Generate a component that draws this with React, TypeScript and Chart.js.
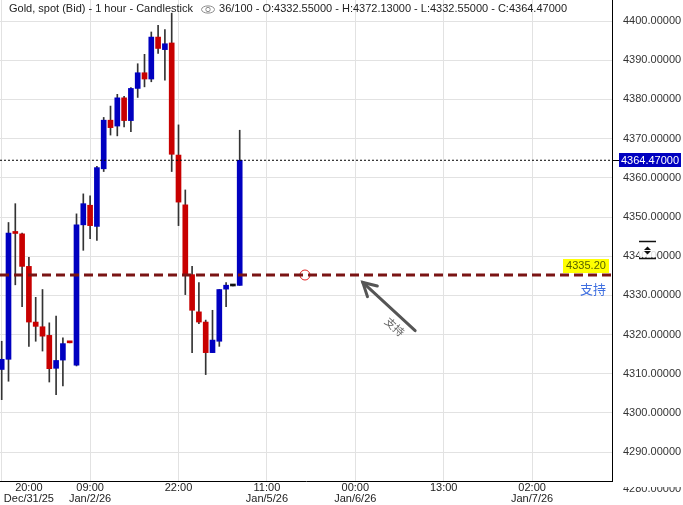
import React, { useEffect, useRef } from "react";
import { Chart, registerables } from "chart.js";

Chart.register(...registerables);

const FONT = '"Liberation Sans", Arial, sans-serif';
const CJK_FONT = '"Noto Sans CJK SC", "Noto Sans", sans-serif';

// ---- data (1-hour candles, Gold spot Bid) ----
const OPEN = [4311.1, 4313.7, 4346.1, 4345.7, 4337.4, 4323.2, 4322.0, 4319.8, 4311.4, 4313.5, 4318.1, 4312.2, 4348.0, 4353.0, 4347.6, 4362.3, 4374.7, 4373.2, 4380.4, 4374.6, 4382.8, 4386.8, 4385.2, 4395.9, 4392.7, 4394.4, 4365.8, 4353.1, 4335.3, 4325.8, 4323.2, 4315.4, 4318.3, 4331.6, 4332.4, 4332.55];
const HIGH = [4318.3, 4348.6, 4353.4, 4345.9, 4339.7, 4329.5, 4331.5, 4323.0, 4324.7, 4319.2, 4318.2, 4350.8, 4355.9, 4355.4, 4362.9, 4375.4, 4378.3, 4381.3, 4380.8, 4383.0, 4389.1, 4391.5, 4397.2, 4398.9, 4397.8, 4402.0, 4373.5, 4356.9, 4337.4, 4333.3, 4323.7, 4326.2, 4331.5, 4333.3, 4332.4, 4372.13];
const LOW = [4303.4, 4308.1, 4332.7, 4327.1, 4317.0, 4318.3, 4315.8, 4307.9, 4304.7, 4306.9, 4317.9, 4312.0, 4341.5, 4344.5, 4344.0, 4361.6, 4370.9, 4370.7, 4373.0, 4371.8, 4380.5, 4383.2, 4384.5, 4391.7, 4384.9, 4361.6, 4347.8, 4330.2, 4315.4, 4322.8, 4309.8, 4315.4, 4317.0, 4327.1, 4332.4, 4332.55];
const CLOSE = [4313.7, 4345.9, 4345.8, 4337.4, 4323.2, 4322.1, 4319.6, 4311.3, 4313.4, 4317.7, 4317.9, 4348.0, 4353.4, 4347.8, 4362.6, 4374.7, 4372.8, 4380.4, 4374.6, 4382.8, 4386.8, 4385.2, 4395.9, 4393.0, 4394.2, 4366.0, 4353.8, 4335.3, 4326.2, 4323.2, 4315.4, 4318.6, 4331.5, 4332.6, 4332.4, 4364.47];

const X_TICK_INDEX = [0, 4, 13, 26, 39, 52, 65, 78];
const X_TICK_LABELS = [[""], ["20:00", "Dec/31/25"], ["09:00", "Jan/2/26"], ["22:00"], ["11:00", "Jan/5/26"], ["00:00", "Jan/6/26"], ["13:00"], ["02:00", "Jan/7/26"]];
const X_TICK_GRID = [true, false, true, true, true, true, true, true];
const X_MIN = -0.25;
const X_MAX = 89.75;

const Y_MIN = 4282.65;
const Y_MAX = 4405.36;
const Y_STEP = 10;
const Y_EXTRA_TICK = 4280;

const TITLE = "Gold, spot (Bid) - 1 hour - Candlestick";
const BAR_COUNT_TEXT = "36/100";

const SUPPORT = 4335.2;
const SUPPORT_LABEL = "4335.20";
const SUPPORT_TEXT = "支持";
const MARKER = { x: 44.6, y: 4335.2 };
const ARROW_FROM = { x: 60.8, y: 4321.0 };
const ARROW_TO = { x: 53.1, y: 4333.3 };
const ARROW_TEXT_AT = { x: 57.8, y: 4322.0 };

const UP = "#0000c0";
const DOWN = "#c80000";
const FLAT = "#111111";
const WICK = "#333333";

const last = OPEN.length - 1;
const CURRENT = CLOSE[last];
const fmt5 = (v: number) => v.toFixed(5);

const overlayPlugin = {
  id: "overlay",
  afterDraw(chart: any) {
    const { ctx, chartArea } = chart;
    const xs = chart.scales.x;
    const ys = chart.scales.y;
    const right = chartArea.right;
    ctx.save();

    // title line
    ctx.font = `11px ${FONT}`;
    ctx.fillStyle = "#222";
    ctx.textBaseline = "middle";
    ctx.textAlign = "left";
    ctx.fillText(TITLE, 9, 9);
    const tw = ctx.measureText(TITLE).width;
    const ex = 9 + tw + 15;
    ctx.strokeStyle = "#8a8a8a";
    ctx.lineWidth = 1;
    ctx.beginPath();
    ctx.ellipse(ex, 9.5, 6.5, 3.6, 0, 0, Math.PI * 2);
    ctx.stroke();
    ctx.beginPath();
    ctx.arc(ex, 9.5, 2.2, 0, Math.PI * 2);
    ctx.stroke();
    const info = `${BAR_COUNT_TEXT} - O:${fmt5(OPEN[last])} - H:${fmt5(HIGH[last])} - L:${fmt5(LOW[last])} - C:${fmt5(CLOSE[last])}`;
    ctx.fillStyle = "#222";
    ctx.fillText(info, ex + 11, 9);

    // current price tag
    const yP = Math.round(ys.getPixelForValue(CURRENT)) + 0.5;
    ctx.strokeStyle = "#000";
    ctx.beginPath();
    ctx.moveTo(right, yP);
    ctx.lineTo(right + 7, yP);
    ctx.stroke();
    ctx.fillStyle = "#0000c0";
    ctx.fillRect(right + 7, yP - 7.5, 62, 14);
    ctx.fillStyle = "#fff";
    ctx.textAlign = "center";
    ctx.fillText(fmt5(CURRENT), right + 38, yP);

    // support label (yellow) and text
    const yS = ys.getPixelForValue(SUPPORT);
    ctx.fillStyle = "#ffff00";
    ctx.fillRect(right - 49, yS - 16, 46, 14);
    ctx.fillStyle = "#556000";
    ctx.textAlign = "center";
    ctx.fillText(SUPPORT_LABEL, right - 26, yS - 9);
    ctx.font = `13px ${CJK_FONT}`;
    ctx.fillStyle = "#3f6fe0";
    ctx.textAlign = "right";
    ctx.fillText(SUPPORT_TEXT, right - 6, yS + 14);

    // arrow annotation
    const x1 = xs.getPixelForValue(ARROW_FROM.x);
    const y1 = ys.getPixelForValue(ARROW_FROM.y);
    const x2 = xs.getPixelForValue(ARROW_TO.x);
    const y2 = ys.getPixelForValue(ARROW_TO.y);
    const ang = Math.atan2(y2 - y1, x2 - x1);
    ctx.strokeStyle = "#555";
    ctx.lineWidth = 3;
    ctx.lineCap = "round";
    ctx.beginPath();
    ctx.moveTo(x1, y1);
    ctx.lineTo(x2, y2);
    ctx.stroke();
    const hl = 15;
    const spread = Math.PI / 6.2;
    ctx.beginPath();
    ctx.moveTo(x2 - hl * Math.cos(ang - spread), y2 - hl * Math.sin(ang - spread));
    ctx.lineTo(x2, y2);
    ctx.lineTo(x2 - hl * Math.cos(ang + spread), y2 - hl * Math.sin(ang + spread));
    ctx.stroke();
    const tx = xs.getPixelForValue(ARROW_TEXT_AT.x);
    const ty = ys.getPixelForValue(ARROW_TEXT_AT.y);
    ctx.translate(tx, ty);
    ctx.rotate(ang + Math.PI);
    ctx.font = `11px ${CJK_FONT}`;
    ctx.fillStyle = "#666";
    ctx.textAlign = "center";
    ctx.textBaseline = "middle";
    ctx.fillText(SUPPORT_TEXT, 0, 0);
    ctx.setTransform(1, 0, 0, 1, 0, 0);

    // axis scale widget
    ctx.fillStyle = "rgba(255,255,255,0.85)";
    ctx.fillRect(right + 27, 243, 17, 14);
    ctx.strokeStyle = "#111";
    ctx.lineWidth = 1.5;
    ctx.lineCap = "butt";
    ctx.beginPath();
    ctx.moveTo(right + 27, 241.5);
    ctx.lineTo(right + 44, 241.5);
    ctx.moveTo(right + 27, 258.5);
    ctx.lineTo(right + 44, 258.5);
    ctx.stroke();
    ctx.fillStyle = "#111";
    ctx.beginPath();
    ctx.moveTo(right + 35.5, 246.5);
    ctx.lineTo(right + 39, 250);
    ctx.lineTo(right + 32, 250);
    ctx.closePath();
    ctx.fill();
    ctx.beginPath();
    ctx.moveTo(right + 32, 251);
    ctx.lineTo(right + 39, 251);
    ctx.lineTo(right + 35.5, 254.5);
    ctx.closePath();
    ctx.fill();

    // partially hidden bottom tick label
    ctx.save();
    ctx.beginPath();
    ctx.rect(right, 487, 80, 30);
    ctx.clip();
    ctx.font = `11px ${FONT}`;
    ctx.fillStyle = "#333";
    ctx.textAlign = "left";
    ctx.textBaseline = "middle";
    ctx.fillText(fmt5(Y_EXTRA_TICK), right + 11, ys.getPixelForValue(Y_EXTRA_TICK) - 2);
    ctx.restore();

    ctx.restore();
  },
};

export default function App() {
  const ref = useRef<HTMLCanvasElement>(null);
  useEffect(() => {
    document.body.style.margin = "0";
    const idx = OPEN.map((_, i) => i);
    const bodyData = idx.map((i) => ({ x: i, y: [OPEN[i], CLOSE[i]] }));
    const wickData = idx.map((i) => ({ x: i, y: [LOW[i], HIGH[i]] }));
    const bodyColors = idx.map((i) => (CLOSE[i] > OPEN[i] ? UP : CLOSE[i] < OPEN[i] ? DOWN : FLAT));

    const chart = new Chart(ref.current as HTMLCanvasElement, {
      type: "bar",
      data: {
        datasets: [
          {
            type: "line",
            data: [
              { x: X_MIN, y: SUPPORT },
              { x: X_MAX, y: SUPPORT },
            ],
            borderColor: "#7a1414",
            borderWidth: 3,
            borderDash: [9, 5],
            pointRadius: 0,
            order: 0,
          } as any,
          {
            type: "line",
            data: [
              { x: X_MIN, y: CURRENT },
              { x: X_MAX, y: CURRENT },
            ],
            borderColor: "#000",
            borderWidth: 1,
            borderDash: [2, 2],
            pointRadius: 0,
            order: 1,
          } as any,
          {
            type: "scatter",
            data: [MARKER],
            pointRadius: 5,
            borderColor: "#e02020",
            borderWidth: 1,
            backgroundColor: "rgba(0,0,0,0)",
            order: 0,
          } as any,
          {
            data: bodyData,
            backgroundColor: bodyColors,
            barThickness: 5,
            minBarLength: 2,
            grouped: false,
            order: 5,
          } as any,
          {
            data: wickData,
            backgroundColor: WICK,
            barThickness: 1,
            grouped: false,
            order: 6,
          } as any,
        ],
      },
      options: {
        responsive: false,
        animation: false,
        events: [],
        layout: { padding: 0, autoPadding: false },
        plugins: { legend: { display: false }, tooltip: { enabled: false }, title: { display: false } },
        scales: {
          x: {
            type: "linear",
            position: "bottom",
            offset: false,
            min: X_MIN,
            max: X_MAX,
            afterBuildTicks: (s: any) => {
              s.ticks = X_TICK_INDEX.map((v) => ({ value: v }));
            },
            afterFit: (s: any) => {
              s.height = 24;
              s.paddingLeft = 0;
              s.paddingRight = 0;
            },
            ticks: {
              autoSkip: false,
              maxRotation: 0,
              padding: 2,
              color: "#222",
              font: { family: FONT, size: 11, lineHeight: 0.95 },
              callback: (v: any) => {
                const k = X_TICK_INDEX.indexOf(v);
                return k >= 0 ? X_TICK_LABELS[k] : "";
              },
            },
            grid: {
              offset: false,
              drawTicks: false,
              color: (c: any) => {
                const k = X_TICK_INDEX.indexOf(c.tick ? c.tick.value : -1);
                return k >= 0 && X_TICK_GRID[k] ? "#e2e2e2" : "rgba(0,0,0,0)";
              },
            },
            border: { display: true, color: "#000", width: 1 },
          },
          y: {
            type: "linear",
            position: "right",
            min: Y_MIN,
            max: Y_MAX,
            afterFit: (s: any) => {
              s.width = 71;
              s.paddingTop = 0;
              s.paddingBottom = 0;
            },
            ticks: {
              stepSize: Y_STEP,
              includeBounds: false,
              padding: 11,
              color: "#333",
              font: { family: FONT, size: 11 },
              callback: (v: any) => fmt5(Number(v)),
            },
            grid: { drawTicks: false, color: "#e2e2e2" },
            border: { display: true, color: "#000", width: 1 },
          },
        },
      } as any,
      plugins: [overlayPlugin],
    });
    return () => chart.destroy();
  }, []);

  return (
    <div style={{ position: "fixed", left: 0, top: 0, width: 683, height: 505, background: "#fff" }}>
      <canvas ref={ref} width={683} height={505} style={{ display: "block", width: 683, height: 505 }} />
    </div>
  );
}
